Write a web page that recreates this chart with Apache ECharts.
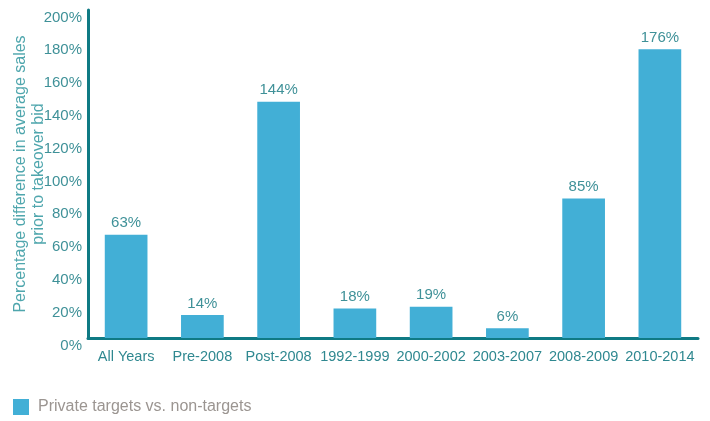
<!DOCTYPE html>
<html>
<head>
<meta charset="utf-8">
<script src="https://cdn.jsdelivr.net/npm/echarts@6/dist/echarts.min.js"></script>
<style>
  html, body { margin: 0; padding: 0; background: #fff; }
  #chart { width: 710px; height: 421px; }
</style>
</head>
<body>
<div id="chart"></div>
<script>
// Periods compared
const categories = ['All Years', 'Pre-2008', 'Post-2008', '1992-1999', '2000-2002', '2003-2007', '2008-2009', '2010-2014'];
// Percentage difference in average sales, private targets vs. non-targets
const values = [63, 14, 144, 18, 19, 6, 85, 176];
const seriesName = 'Private targets vs. non-targets';
const yTitle = 'Percentage difference in average sales\nprior to takeover bid';

const FONT = 'Liberation Sans, Arial, sans-serif';
const chart = echarts.init(document.getElementById('chart'));
chart.setOption({
  animation: false,
  textStyle: { fontFamily: FONT },
  grid: { left: 88, right: 12, top: 10, bottom: 83, containLabel: false, outerBoundsMode: 'none' },
  legend: {
    left: 13, top: 399, padding: 0,
    itemWidth: 16, itemHeight: 16, itemGap: 10,
    icon: 'rect',
    textStyle: { color: '#9b9591', fontSize: 16, fontFamily: FONT, padding: [0, 0, 0, 4] },
    data: [seriesName]
  },
  xAxis: {
    type: 'category',
    data: categories,
    axisLine: { lineStyle: { color: '#0f7a84', width: 3 } },
    axisTick: { show: false },
    axisLabel: { color: '#2f8890', fontSize: 14.5, margin: 11, interval: 0 }
  },
  yAxis: {
    type: 'value',
    min: 0, max: 200, interval: 20,
    name: yTitle,
    nameLocation: 'middle',
    nameGap: 40,
    nameMoveOverlap: false,
    nameTextStyle: { color: '#4fa6ad', fontSize: 16, lineHeight: 18, fontFamily: FONT },
    axisLine: { show: true, lineStyle: { color: '#0f7a84', width: 3 } },
    axisTick: { show: false },
    splitLine: { show: false },
    axisLabel: {
      color: '#3f9198', fontSize: 15, margin: 6,
      formatter: '{value}%',
      verticalAlign: 'top'
    }
  },
  series: [{
    name: seriesName,
    type: 'bar',
    data: values,
    barWidth: '56%',
    itemStyle: { color: '#42afd6' },
    label: {
      show: true, position: 'top', distance: 4,
      formatter: '{c}%',
      color: '#3f9198', fontSize: 15
    }
  }]
});
</script>
</body>
</html>
